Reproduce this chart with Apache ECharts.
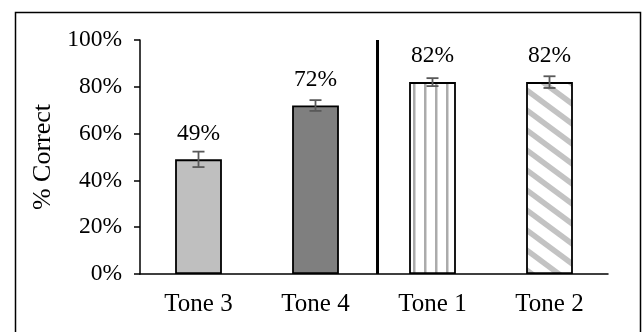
<!DOCTYPE html>
<html>
<head>
<meta charset="utf-8">
<script src="https://cdn.jsdelivr.net/npm/echarts@6/dist/echarts.min.js"></script>
<style>html,body{margin:0;padding:0;background:#fff}#c{width:643px;height:332px}</style>
</head>
<body>
<div id="c"></div>
<script>
var categories = ['Tone 3', 'Tone 4', 'Tone 1', 'Tone 2'];
var values = [49, 72, 82, 82];
var errLow = [45.7, 69.7, 80.3, 79.5];
var errHigh = [52.3, 74.3, 83.7, 84.5];
var yTicks = [0, 20, 40, 60, 80, 100];
var separatorAt = [2.03];

function vStripes() {
  var c = document.createElement('canvas');
  c.width = 11; c.height = 11;
  var g = c.getContext('2d');
  g.fillStyle = '#fff'; g.fillRect(0, 0, 11, 11);
  g.fillStyle = '#ababab'; g.fillRect(6, 0, 2.5, 11);
  return c;
}
function dStripes() {
  var W = 27, H = 20;
  var c = document.createElement('canvas');
  c.width = W; c.height = H;
  var g = c.getContext('2d');
  g.fillStyle = '#fff'; g.fillRect(0, 0, W, H);
  g.strokeStyle = '#c3c3c3'; g.lineWidth = 5.5;
  [-W, 0, W].forEach(function (dx) {
    g.beginPath(); g.moveTo(dx - W, -H); g.lineTo(dx + 2 * W, 2 * H); g.stroke();
  });
  return c;
}

var fills = ['#bfbfbf', '#7f7f7f',
  { image: vStripes(), repeat: 'repeat' },
  { image: dStripes(), repeat: 'repeat' }];

var font = 'Liberation Serif';
var chart = echarts.init(document.getElementById('c'));
chart.setOption({
  animation: false,
  backgroundColor: '#fff',
  graphic: [{
    type: 'rect', left: 13, top: 10,
    shape: { width: 625, height: 330 },
    style: { fill: 'none', stroke: '#000', lineWidth: 1.5 },
    silent: true
  }],
  grid: { left: 140, right: 35, top: 40, bottom: 58 },
  xAxis: [{
    type: 'category', data: categories,
    axisLine: { lineStyle: { color: '#000', width: 1.5 } },
    axisTick: { show: false },
    axisLabel: { fontFamily: font, fontSize: 25, color: '#000', margin: 18 }
  }, {
    type: 'value', min: 0, max: 4, show: false
  }],
  yAxis: {
    type: 'value', min: 0, max: 100, interval: 20,
    name: '% Correct', nameLocation: 'middle', nameGap: 84,
    nameTextStyle: { fontFamily: font, fontSize: 26, color: '#000' },
    axisLine: { show: true, lineStyle: { color: '#000', width: 1.5 } },
    axisTick: { show: true, length: 6, lineStyle: { color: '#000', width: 1.5 } },
    splitLine: { show: false },
    axisLabel: { fontFamily: font, fontSize: 23.5, color: '#000', margin: 18,
      formatter: '{value}%' }
  },
  series: [{
    type: 'bar', barWidth: '40%',
    data: values.map(function (v, i) {
      return { value: v, itemStyle: { color: fills[i] } };
    }),
    itemStyle: { borderColor: '#000', borderWidth: 1.8 },
    label: { show: true, position: 'top', distance: 14, formatter: '{c}%',
      fontFamily: font, fontSize: 23.5, color: '#000' },
    z: 2
  }, {
    type: 'custom',
    data: categories.map(function (c, i) { return [i, errLow[i], errHigh[i]]; }),
    renderItem: function (params, api) {
      var lo = api.coord([api.value(0), api.value(1)]);
      var hi = api.coord([api.value(0), api.value(2)]);
      var w = 6;
      var st = { stroke: '#595959', lineWidth: 1.8 };
      return { type: 'group', children: [
        { type: 'line', shape: { x1: lo[0], y1: lo[1], x2: hi[0], y2: hi[1] }, style: st },
        { type: 'line', shape: { x1: lo[0] - w, y1: lo[1], x2: lo[0] + w, y2: lo[1] }, style: st },
        { type: 'line', shape: { x1: hi[0] - w, y1: hi[1], x2: hi[0] + w, y2: hi[1] }, style: st }
      ] };
    },
    z: 3
  }, {
    type: 'line', xAxisIndex: 1, symbol: 'none',
    data: [[separatorAt[0], yTicks[0]], [separatorAt[0], yTicks[yTicks.length - 1]]],
    lineStyle: { color: '#000', width: 3 },
    z: 4
  }]
});
</script>
</body>
</html>
